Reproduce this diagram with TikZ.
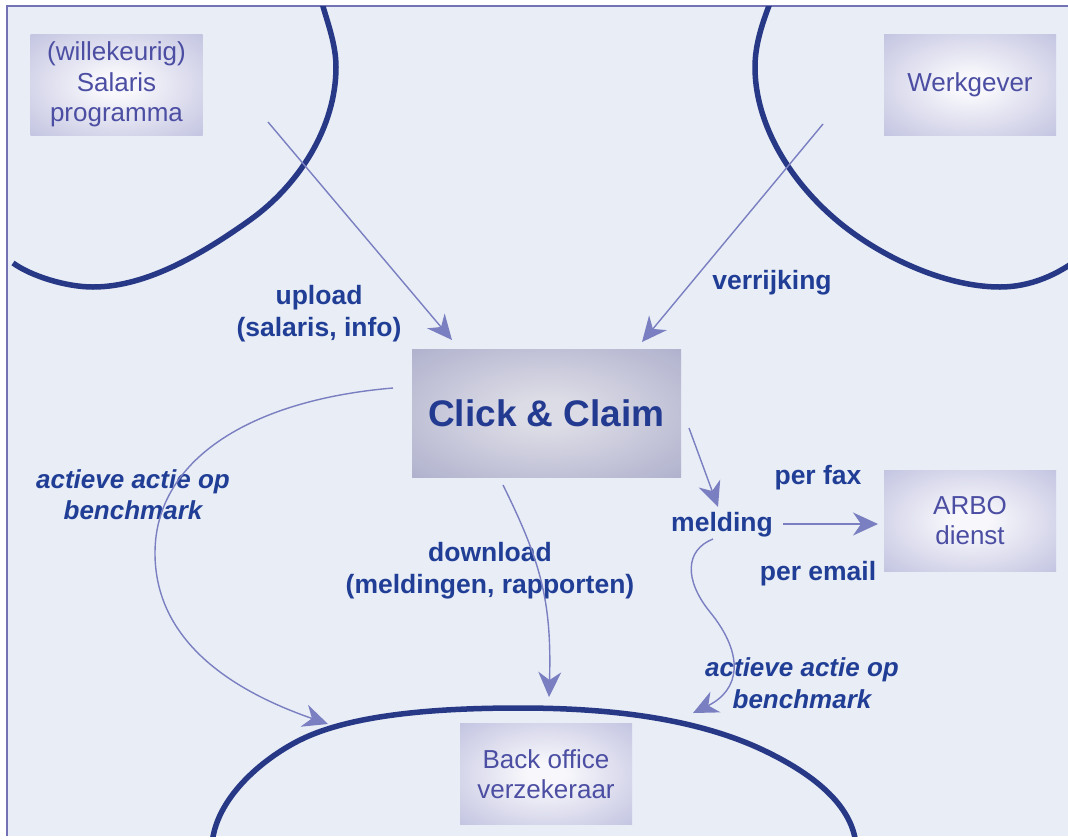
\documentclass[tikz,border=0pt]{standalone}
\usepackage{fontspec}
\setmainfont{Liberation Sans}
\usetikzlibrary{arrows.meta}
\definecolor{bgc}{HTML}{E9EDF6}
\definecolor{framec}{HTML}{7372B5}
\definecolor{ringc}{HTML}{263886}
\definecolor{arrowc}{HTML}{7A7FC1}
\definecolor{labelc}{HTML}{203E95}
\definecolor{boxtext}{HTML}{4B4EA2}
\definecolor{clicktext}{HTML}{233A91}
\definecolor{boxin}{HTML}{F8F8FC}
\definecolor{boxout}{HTML}{B8B9DB}
\definecolor{clickin}{HTML}{DCDCE6}
\definecolor{clickout}{HTML}{A3A5C6}
\pgfdeclareradialshading{boxglow}{\pgfpoint{0bp}{0bp}}{color(0bp)=(boxin); color(5bp)=(boxin); color(42bp)=(boxout); color(100bp)=(boxout)}
\pgfdeclareradialshading{clickglow}{\pgfpoint{0bp}{0bp}}{color(0bp)=(clickin); color(6bp)=(clickin); color(44bp)=(clickout); color(100bp)=(clickout)}
\begin{document}
\begin{tikzpicture}[x=1pt,y=-1pt,
  ring/.style={draw=ringc, line width=5.5pt},
  arr/.style={draw=arrowc, line width=1.4pt, -{Stealth[length=25pt,width=23pt,inset=8pt]}},
  box/.style={shading=boxglow, inner sep=0pt, align=center, text=boxtext,
    minimum width=172pt, minimum height=101pt, font=\fontsize{26}{30.5}\selectfont},
  clickbox/.style={shading=clickglow, inner sep=0pt, align=center, text=clicktext,
    minimum width=269pt, minimum height=128pt, font=\bfseries\fontsize{37}{44}\selectfont},
  lbl/.style={inner sep=0pt, align=center, text=labelc, font=\bfseries\fontsize{26.5}{32}\selectfont},
  ilbl/.style={lbl, font=\bfseries\itshape\fontsize{26}{31.5}\selectfont}]
\useasboundingbox (0,0) rectangle (1068,839);
\fill[white] (0,0) rectangle (1068,839);
\fill[bgc] (7,6) rectangle (1068,836);
\draw[framec, line width=2pt] (7,836) -- (7,6) -- (1068,6);
\begin{scope}
\clip (7,6) rectangle (1068,836);
% left ring
\draw[ring] (322,3) .. controls (328,24) and (336,45) .. (336,67)
  .. controls (336,127) and (299,185) .. (250,220)
  .. controls (205,252) and (148,287) .. (93,287)
  .. controls (66,287) and (31,276) .. (13,263);
% right ring
\draw[ring] (770,3) .. controls (762,24) and (755,45) .. (755,67)
  .. controls (755,132) and (800,195) .. (853,233)
  .. controls (893,262) and (950,287) .. (1000,287)
  .. controls (1030,287) and (1058,275) .. (1082,256);
% bottom ring
\draw[ring] (212,845) .. controls (215,800) and (260,760) .. (300,740)
  .. controls (354,713) and (445,708) .. (520,708)
  .. controls (600,708) and (691,716) .. (763,750)
  .. controls (803,769) and (852,800) .. (856,845);
\end{scope}
% boxes
\node[box] (sal) at (116.5,84.5) {(willekeurig)\\Salaris\\programma};
\node[box] (werk) at (970,84.5) {Werkgever};
\node[clickbox] (cc) at (546.5,413) {Click \& Claim};
\node[box] (arbo) at (970,520.5) {ARBO\\dienst};
\node[box] (back) at (546,774) {Back office\\verzekeraar};
% labels
\node[lbl] (upl) at (319,314) {upload\\(salaris, info)};
\node[lbl] (verr) at (772,283) {verrijking};
\node[ilbl] (act1) at (133,494.5) {actieve actie op\\benchmark};
\node[lbl] (down) at (490,571) {download\\(meldingen, rapporten)};
\node[lbl] (meld) at (722,525) {melding};
\node[lbl] (fax) at (818,478) {per fax};
\node[lbl] (mail) at (818,574) {per email};
\node[ilbl] (act2) at (802,683) {actieve actie op\\benchmark};
% connector ends
\coordinate (upS) at (268,122);
\coordinate (upE) at (452,340);
\coordinate (vrS) at (823,124);
\coordinate (vrE) at (642,342);
\coordinate (cmS) at (689,428);
\coordinate (cmE) at (718,507);
\coordinate (lcS) at (393,388);
\coordinate (lcM) at (155,553);
\coordinate (lcE) at (328,724);
\coordinate (dlS) at (503,485);
\coordinate (dlE) at (549,697);
\coordinate (mcS) at (713,539);
\coordinate (mcM) at (710,612);
\coordinate (mcE) at (693,713);
\coordinate (maE) at (878,524);
% connectors
\draw[arr] (upS) -- (upE);
\draw[arr] (vrS) -- (vrE);
\draw[arr] (cmS) -- (cmE);
\draw[arr, shorten <=10pt] (meld.east |- maE) -- (maE);
\draw[arr] (lcS) .. controls (250,400) and (155,460) .. (lcM) .. controls (155,640) and (230,690) .. (lcE);
\draw[arr] (dlS) .. controls (540,560) and (552,600) .. (dlE);
\draw[arr] (mcS) .. controls (685,550) and (684,580) .. (mcM) .. controls (745,655) and (740,690) .. (mcE);
\end{tikzpicture}
\end{document}
